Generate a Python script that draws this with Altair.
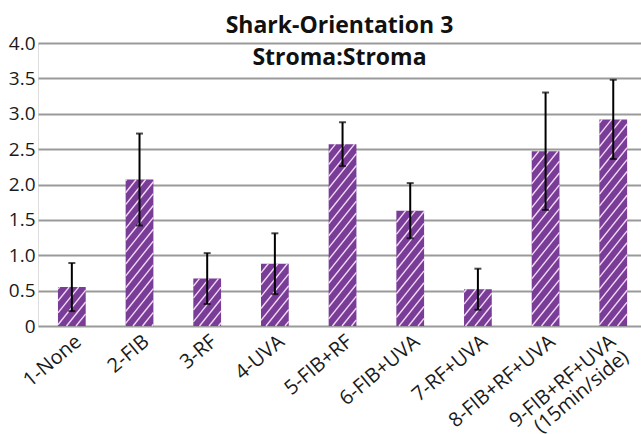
import json
import altair as alt
import pandas as pd

# Treatment groups (a "\n" starts a second label line) and their mean scores
groups = ["1-None", "2-FIB", "3-RF", "4-UVA", "5-FIB+RF", "6-FIB+UVA",
          "7-RF+UVA", "8-FIB+RF+UVA", "9-FIB+RF+UVA\n(15min/side)"]
means = [0.55, 2.07, 0.67, 0.88, 2.57, 1.63, 0.52, 2.47, 2.92]
errors = [0.34, 0.65, 0.36, 0.43, 0.31, 0.39, 0.29, 0.83, 0.56]
y_ticks = [0, 0.5, 1.0, 1.5, 2.0, 2.5, 3.0, 3.5, 4.0]

# Plot geometry
PLOT_W, PLOT_H = 603, 283
X_DOMAIN = [0.5, 9.41]
Y_DOMAIN = [0, 4.0]
BAR_HALF = 0.205          # half bar width, in group units
PURPLE = "#7a3d97"

px_per_x = PLOT_W / (X_DOMAIN[1] - X_DOMAIN[0])
px_per_y = PLOT_H / (Y_DOMAIN[1] - Y_DOMAIN[0])

idx = list(range(1, len(groups) + 1))
bars = pd.DataFrame({
    "i": idx,
    "group": groups,
    "mean": means,
    "lo": [m - e for m, e in zip(means, errors)],
    "hi": [m + e for m, e in zip(means, errors)],
})
bars["left"] = bars["i"] - BAR_HALF
bars["right"] = bars["i"] + BAR_HALF

# Diagonal hatch lines ("/"), clipped to each bar
STEP = 9.5    # horizontal spacing between hatch lines, px
SLOPE = 1.25  # rise over run of a hatch line, px/px
seg = []
for _, b in bars.iterrows():
    ul = (b["left"] - X_DOMAIN[0]) * px_per_x
    ur = (b["right"] - X_DOMAIN[0]) * px_per_x
    h = b["mean"] * px_per_y
    n0 = int((ul - h / SLOPE) // STEP) - 1
    n1 = int(ur // STEP) + 1
    for n in range(n0, n1 + 1):
        a = n * STEP
        u1 = max(ul, a)
        u2 = min(ur, a + h / SLOPE)
        if u2 - u1 < 0.8:
            continue
        seg.append({
            "x": X_DOMAIN[0] + u1 / px_per_x,
            "x2": X_DOMAIN[0] + u2 / px_per_x,
            "y": SLOPE * (u1 - a) / px_per_y,
            "y2": SLOPE * (u2 - a) / px_per_y,
        })
hatch = pd.DataFrame(seg)

label_lines = json.dumps([g.split("\n") for g in groups])
multi_line = [i for i, g in zip(idx, groups) if "\n" in g]

x_scale = alt.Scale(domain=X_DOMAIN, nice=False, zero=False)
y_scale = alt.Scale(domain=Y_DOMAIN, nice=False)

x_axis = alt.Axis(
    values=idx, tickCount=len(idx) + 1,
    labelExpr=f"{label_lines}[datum.value - 1]",
    labelAngle=-40, labelFontSize=20, labelFont="Open Sans",
    labelColor="#1a1a1a", labelPadding=5, labelLineHeight=20,
    # two-line labels are nudged left so the rotated block stays on canvas
    labelOffset={"condition": {"test": f"indexof({json.dumps(multi_line)}, datum.value) >= 0",
                               "value": -7},
                 "value": 0},
    labelOverlap=False, labelBound=False, labelFlush=False,
    domain=False, ticks=False, grid=False, title=None,
)
y_axis = alt.Axis(
    values=y_ticks, tickCount=len(y_ticks) + 1,
    labelExpr="datum.value == 0 ? '0' : format(datum.value, '.1f')",
    labelFontSize=19, labelFont="Open Sans", labelColor="#1a1a1a",
    labelOverlap=False, labelFlush=False,
    labelPadding=3, domain=False, ticks=False,
    grid=True, gridColor="#9a9a9a", gridWidth=2, title=None,
)

base = alt.Chart(bars)

bar_layer = base.mark_rect(color=PURPLE).encode(
    x=alt.X("left:Q", scale=x_scale, axis=x_axis),
    x2="right:Q",
    y=alt.Y("mean:Q", scale=y_scale, axis=y_axis),
    y2=alt.datum(0),
)

hatch_layer = alt.Chart(hatch).mark_rule(
    color="#f1d9f6", strokeWidth=1.4
).encode(
    x=alt.X("x:Q", scale=x_scale, axis=x_axis), x2="x2:Q",
    y=alt.Y("y:Q", scale=y_scale, axis=y_axis), y2="y2:Q",
)

err_layer = base.mark_rule(color="black", strokeWidth=2).encode(
    x=alt.X("i:Q", scale=x_scale, axis=x_axis),
    y=alt.Y("lo:Q", scale=y_scale, axis=y_axis), y2="hi:Q",
)
cap_hi = base.mark_tick(color="black", orient="horizontal", size=7,
                        thickness=2).encode(
    x=alt.X("i:Q", scale=x_scale, axis=x_axis),
    y=alt.Y("hi:Q", scale=y_scale, axis=y_axis),
)
cap_lo = base.mark_tick(color="black", orient="horizontal", size=7,
                        thickness=2).encode(
    x=alt.X("i:Q", scale=x_scale, axis=x_axis),
    y=alt.Y("lo:Q", scale=y_scale, axis=y_axis),
)

chart = alt.layer(bar_layer, hatch_layer, err_layer, cap_hi, cap_lo).properties(
    width=PLOT_W,
    height=PLOT_H,
    autosize=alt.AutoSizeParams(type="none"),
    padding={"left": 38, "top": 43, "right": 0, "bottom": 108},
    title=alt.Title(
        ["Shark-Orientation 3", "Stroma:Stroma"],
        font="Open Sans", fontSize=23, fontWeight="bold", color="#111111",
        lineHeight=32, anchor="middle", baseline="alphabetic", offset=-54,
    ),
).configure_view(stroke=None).configure(background="white")

chart.save("out.html", embed_options={"renderer": "svg", "actions": False})
